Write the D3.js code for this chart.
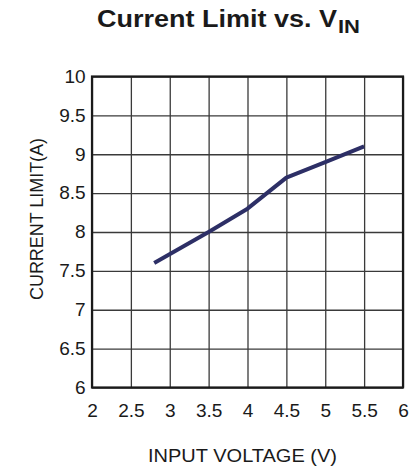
<!DOCTYPE html>
<html>
<head>
<meta charset="utf-8">
<script src="https://cdn.jsdelivr.net/npm/d3@7"></script>
<style>
  body { margin: 0; background: #fff; }
  svg { display: block; font-family: "Liberation Sans", Arial, sans-serif; }
</style>
</head>
<body>
<svg id="chart" width="419" height="469"></svg>
<script>
// data
let voltage = [2.8, 3.5, 4.0, 4.5, 5.0, 5.5];
let currentLimit = [7.6, 8.0, 8.3, 8.7, 8.9, 9.1];
let xTicks = [2, 2.5, 3, 3.5, 4, 4.5, 5, 5.5, 6];
let yTicks = [6, 6.5, 7, 7.5, 8, 8.5, 9, 9.5, 10];

let margin = {top: 76.5, left: 92};
let w = 311, h = 311;

let svg = d3.select('#chart');
let g = svg.append('g')
    .attr('transform', `translate(${margin.left},${margin.top})`);

let x = d3.scaleLinear().domain([2, 6]).range([0, w]);
let y = d3.scaleLinear().domain([6, 10]).range([h, 0]);

// x axis + vertical grid
let xAxis = g.append('g')
    .attr('transform', `translate(0,${h})`)
    .call(d3.axisBottom(x)
        .tickValues(xTicks)
        .tickSizeInner(-h)
        .tickSizeOuter(0)
        .tickPadding(16.5)
        .tickFormat(d3.format('')));

// y axis + horizontal grid
let yAxis = g.append('g')
    .call(d3.axisLeft(y)
        .tickValues(yTicks)
        .tickSizeInner(-w)
        .tickSizeOuter(0)
        .tickPadding(6)
        .tickFormat(d3.format('')));

[xAxis, yAxis].forEach(function (a) {
    a.select('.domain').remove();
    a.selectAll('.tick line')
        .attr('stroke', '#3a3a3a')
        .attr('stroke-width', 1.3);
    a.selectAll('.tick text')
        .attr('fill', '#1a1a1a')
        .style('font-size', '18px')
        .attr('transform', 'scale(1.06,1)');
});

// border
g.append('rect')
    .attr('x', 0).attr('y', 0)
    .attr('width', w).attr('height', h)
    .attr('fill', 'none')
    .attr('stroke', '#1a1a1a')
    .attr('stroke-width', 2.2);

// curve
let line = d3.line()
    .x(function (d, i) { return x(voltage[i]); })
    .y(function (d) { return y(d); });

g.append('path')
    .datum(currentLimit)
    .attr('d', line)
    .attr('fill', 'none')
    .attr('stroke', '#2d2f66')
    .attr('stroke-width', 4)
    .attr('stroke-linejoin', 'round');

// title
svg.append('text')
    .attr('x', 97).attr('y', 27)
    .attr('textLength', 240)
    .attr('lengthAdjust', 'spacingAndGlyphs')
    .style('font-size', '23px')
    .style('font-weight', 'bold')
    .attr('fill', '#1a1a1a')
    .text('Current Limit vs. V');
svg.append('text')
    .attr('x', 338).attr('y', 33.3)
    .attr('textLength', 22)
    .attr('lengthAdjust', 'spacingAndGlyphs')
    .style('font-size', '17.5px')
    .style('font-weight', 'bold')
    .attr('fill', '#1a1a1a')
    .text('IN');

// axis titles
svg.append('text')
    .attr('x', 242.5).attr('y', 461.5)
    .attr('text-anchor', 'middle')
    .attr('textLength', 189)
    .attr('lengthAdjust', 'spacingAndGlyphs')
    .style('font-size', '17.7px')
    .attr('fill', '#1a1a1a')
    .text('INPUT VOLTAGE (V)');

svg.append('text')
    .attr('transform', 'translate(42.5,219) rotate(-90)')
    .attr('text-anchor', 'middle')
    .attr('textLength', 162)
    .attr('lengthAdjust', 'spacingAndGlyphs')
    .style('font-size', '17.7px')
    .attr('fill', '#1a1a1a')
    .text('CURRENT LIMIT(A)');
</script>
</body>
</html>
